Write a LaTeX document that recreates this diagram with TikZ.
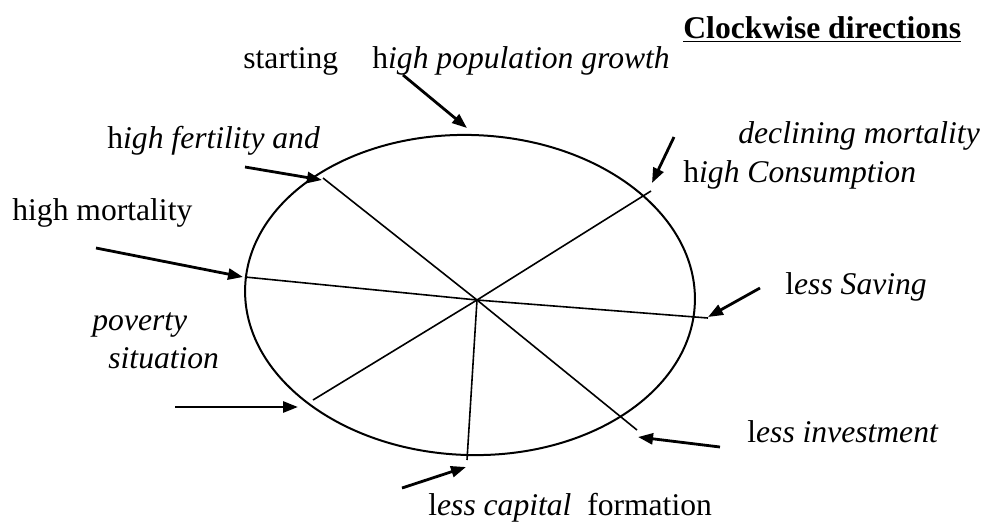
\documentclass[tikz,border=0pt]{standalone}
\usepackage{fontspec}
\setmainfont{Liberation Serif}
\usetikzlibrary{arrows.meta}

\begin{document}
\begin{tikzpicture}[x=0.5pt,y=-0.5pt,
  spoke/.style={line width=0.8pt},
  pointer/.style={line width=1.4pt,-{Triangle[length=7.5pt,width=5.5pt]}},
  lbl/.style={anchor=base west,inner sep=0pt,font=\fontsize{15.8}{19}\selectfont}]
\useasboundingbox (0,0) rectangle (984,521);
% wheel
\draw[line width=1pt,rotate around={-2:(470,295)}] (470,295) ellipse [x radius=225,y radius=160];
\coordinate (c) at (477,300);
\foreach \n/\x/\y in {ul/323/178,ur/651/191,l/245/277,r/708/318,ll/313/400,lr/637/430,b/467/460}{\coordinate (e\n) at (\x,\y); \draw[spoke] (c)--(e\n);}
% arrows pointing at the wheel
\foreach \n/\x/\y/\u/\v in {t/403/75/467/128,ul/245/167/322/180,ur/674/137/652/183,l/96/248/243/277,r/760/288/708/317,ll/175/407/298/407,lr/720/447/638/437,b/402/488/466/467}{\coordinate (s\n) at (\x,\y); \coordinate (t\n) at (\u,\v); \draw[pointer] (s\n)--(t\n);}
% labels
\node[lbl] (title) at (683,38) {\textbf{\underline{Clockwise directions}}};
\node[lbl] (start) at (243,68) {starting};
\node[lbl] (growth) at (372,68) {h\textit{igh population growth}};
\node[lbl] (fert) at (107,148) {h\textit{igh fertility and}};
\node[lbl] (decl) at (738,143) {\textit{declining mortality}};
\node[lbl] (cons) at (683,182) {h\textit{igh Consumption}};
\node[lbl] (mort) at (12,220) {high mortality};
\node[lbl] (sav) at (785,294) {l\textit{ess Saving}};
\node[lbl] (pov) at (92,330) {\textit{poverty}};
\node[lbl] (sit) at (108,368) {\textit{situation}};
\node[lbl] (inv) at (747,442) {l\textit{ess investment}};
\node[lbl] (cap) at (428,515) {l\textit{ess capital}\ \ formation};
\end{tikzpicture}
\end{document}
